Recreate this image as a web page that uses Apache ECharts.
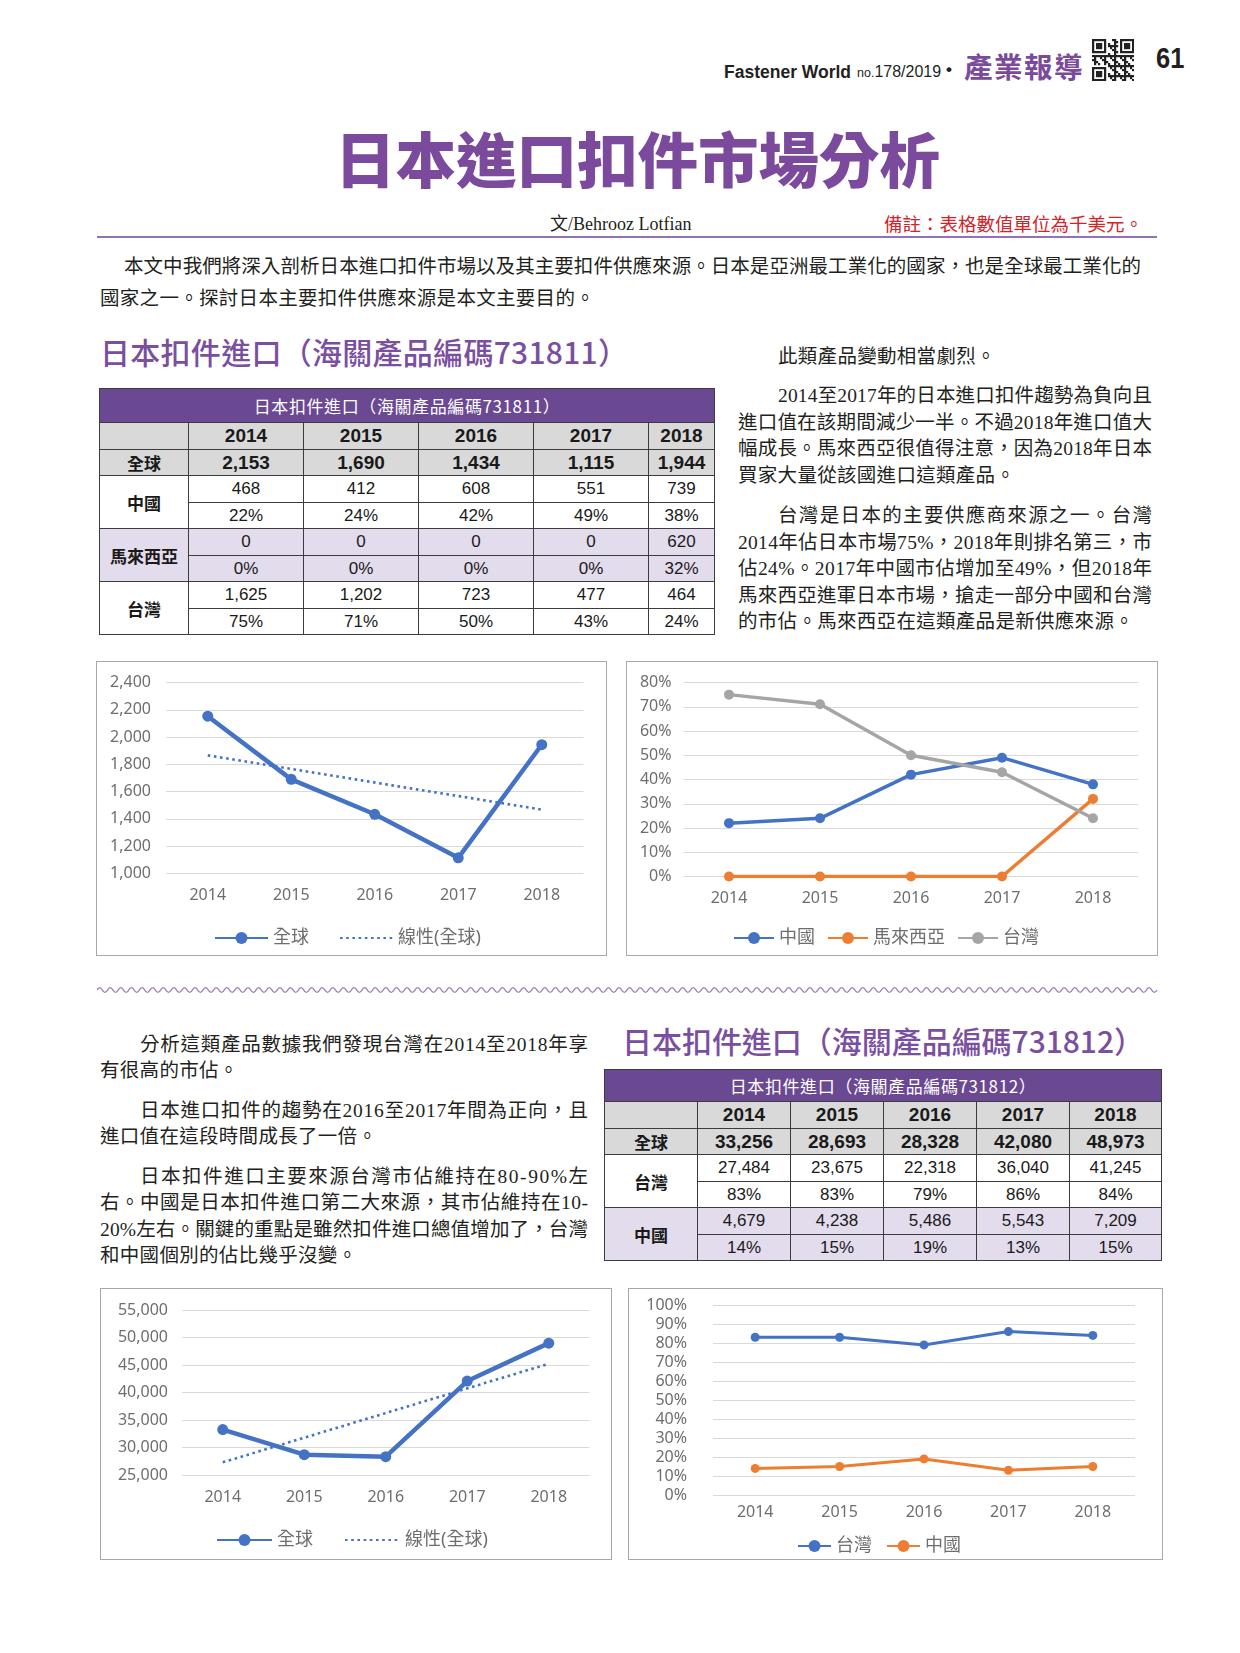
<!DOCTYPE html>
<html><head><meta charset="utf-8">
<script src="https://cdn.jsdelivr.net/npm/echarts@6/dist/echarts.min.js"></script>
<style>
html,body{margin:0;padding:0;background:#fff;}
body{width:1240px;height:1653px;position:relative;overflow:hidden;font-family:"Noto Sans CJK TC",sans-serif;color:#231f20;}
.abs{position:absolute;white-space:nowrap;}
.line{position:absolute;white-space:nowrap;font-family:"Liberation Serif","Noto Sans CJK TC",serif;color:#231f20;}
.box{position:absolute;border:1.5px solid #a8a8a8;box-sizing:border-box;pointer-events:none;}
.chart{position:absolute;}
table.dt{position:absolute;border-collapse:collapse;table-layout:fixed;}
table.dt td{border:1.3px solid #3c3c3c;padding:0;text-align:center;vertical-align:middle;font-family:"Liberation Sans",Arial,sans-serif;font-size:17px;color:#1a1a1a;overflow:hidden;white-space:nowrap;line-height:1;}
table.dt td.th{background:#6b4892;color:#fff;font-family:"Noto Sans CJK TC",sans-serif;font-size:17px;letter-spacing:0.6px;}
table.dt tr.gray td{background:#d9d9d9;}
table.dt tr.lav td, table.dt td.lav{background:#e3dcec;}
table.dt td.yr{font-weight:bold;font-size:19px;}
table.dt td.lbl{font-family:"Noto Sans CJK TC",sans-serif;font-weight:bold;font-size:17px;}
</style>
</head><body>
<script>
// ---------- DATA ----------
const years = ['2014', '2015', '2016', '2017', '2018'];
// HS 731811
const global811 = [2153, 1690, 1434, 1115, 1944];
const china811 = [468, 412, 608, 551, 739];
const malaysia811 = [0, 0, 0, 0, 620];
const taiwan811 = [1625, 1202, 723, 477, 464];
const chinaShare811 = [22, 24, 42, 49, 38];
const malaysiaShare811 = [0, 0, 0, 0, 32];
const taiwanShare811 = [75, 71, 50, 43, 24];
const trend811 = [1866, null, null, null, 1468];   // trendline endpoints
// HS 731812
const global812 = [33256, 28693, 28328, 42080, 48973];
const taiwan812 = [27484, 23675, 22318, 36040, 41245];
const china812 = [4679, 4238, 5486, 5543, 7209];
const taiwanShare812 = [83, 83, 79, 86, 84];
const chinaShare812 = [14, 15, 19, 13, 15];
const trend812 = [27300, null, null, null, 45230];  // trendline endpoints
// axis ticks
const axis1 = {min: 1000, max: 2400, interval: 200};
const axis2 = {min: 0, max: 80, interval: 10};
const axis3 = {min: 25000, max: 55000, interval: 5000};
const axis4 = {min: 0, max: 100, interval: 10};
</script>

<!-- header -->
<div class="abs" style="left:724px;top:62px;font:bold 17.5px 'Liberation Sans',Arial,sans-serif;line-height:20px;">Fastener World</div>
<div class="abs" style="left:857px;top:62px;font-family:'Liberation Sans Narrow','Liberation Sans',sans-serif;line-height:20px;"><span style="font-size:12.5px">no.</span><span style="font-size:16px">178/2019</span></div>
<div class="abs" style="left:946px;top:60px;font:bold 17px 'Liberation Sans',sans-serif;line-height:20px;">•</div>
<div class="abs" style="left:964px;top:50px;font-size:28.5px;font-weight:bold;color:#7b4a9d;letter-spacing:1.5px;line-height:32px;">產業報導</div>
<svg id="qr" class="abs" style="left:1092px;top:39px" width="42" height="42"></svg>
<div class="abs" style="left:1156px;top:42px;font:bold 30px 'Liberation Sans Narrow','Liberation Sans',sans-serif;line-height:32px;transform:scaleX(0.85);transform-origin:left top;">61</div>

<!-- title -->
<div class="abs" style="left:335px;top:121px;font-size:60.5px;font-weight:900;color:#7b4a9d;line-height:72px;">日本進口扣件市場分析</div>
<div class="abs" style="left:550px;top:213px;font-family:'Liberation Serif','Noto Sans CJK TC',serif;font-size:18px;line-height:22px;">文/Behrooz Lotfian</div>
<div class="abs" style="left:884px;top:212px;font-size:18.5px;line-height:22px;color:#d2232a;">備註：表格數值單位為千美元。</div>
<div class="abs" style="left:97px;top:236px;width:1060px;height:1.5px;background:#9273b2;"></div>

<div id="wave" class="abs" style="left:97px;top:978px;"></div>

<div class="box" style="left:96px;top:661px;width:511px;height:295px;"></div>
<div class="box" style="left:626px;top:661px;width:532px;height:295px;"></div>
<div class="box" style="left:100px;top:1288px;width:512px;height:272px;"></div>
<div class="box" style="left:628px;top:1288px;width:535px;height:272px;"></div>
<div id="c1" class="chart" style="left:96px;top:661px;width:511px;height:295px;"></div>
<div id="c2" class="chart" style="left:626px;top:661px;width:532px;height:295px;"></div>
<div id="c3" class="chart" style="left:100px;top:1288px;width:512px;height:272px;"></div>
<div id="c4" class="chart" style="left:628px;top:1288px;width:535px;height:272px;"></div>

<script>
// ---------- text lines ----------
function textLine(txt, x, yc, w, o) {
  o = o || {};
  const fs = o.fs || 19.5, lh = fs + 6;
  const d = document.createElement('div');
  d.className = o.cls || 'line';
  d.style.position = 'absolute';
  d.style.whiteSpace = 'nowrap';
  d.style.left = (x + (o.indent || 0)) + 'px';
  d.style.top = (yc - lh / 2) + 'px';
  d.style.fontSize = fs + 'px';
  d.style.lineHeight = lh + 'px';
  if (o.color) d.style.color = o.color;
  if (o.weight) d.style.fontWeight = o.weight;
  const s = document.createElement('span');
  s.textContent = txt;
  d.appendChild(s);
  document.body.appendChild(d);
  const n = Array.from(txt).length;
  if (o.full) {
    const nat = s.getBoundingClientRect().width;
    const target = w - (o.indent || 0);
    d.style.letterSpacing = ((target - nat) / (n - 1)) + 'px';
  } else if (o.ls != null) {
    d.style.letterSpacing = o.ls + 'px';
  }
  return d;
}
// intro
textLine('本文中我們將深入剖析日本進口扣件市場以及其主要扣件供應來源。日本是亞洲最工業化的國家，也是全球最工業化的', 100, 267, 1041, {indent: 24, full: true});
textLine('國家之一。探討日本主要扣件供應來源是本文主要目的。', 100, 298.5, 0, {ls: 0.3});
// right column
const RX = 738, RW = 414;
textLine('此類產品變動相當劇烈。', RX, 357, RW, {indent: 40, ls: 0.3});
textLine('2014至2017年的日本進口扣件趨勢為負向且', RX, 396, RW, {indent: 40, full: true});
textLine('進口值在該期間減少一半。不過2018年進口值大', RX, 422.5, RW, {full: true});
textLine('幅成長。馬來西亞很值得注意，因為2018年日本', RX, 449, RW, {full: true});
textLine('買家大量從該國進口這類產品。', RX, 475.5, RW, {ls: 0.3});
textLine('台灣是日本的主要供應商來源之一。台灣', RX, 516, RW, {indent: 40, full: true});
textLine('2014年佔日本市場75%，2018年則排名第三，市', RX, 542.5, RW, {full: true});
textLine('佔24%。2017年中國市佔增加至49%，但2018年', RX, 569, RW, {full: true});
textLine('馬來西亞進軍日本市場，搶走一部分中國和台灣', RX, 595.5, RW, {full: true});
textLine('的市佔。馬來西亞在這類產品是新供應來源。', RX, 622, RW, {ls: 0.3});
// lower left
const LX = 100, LW = 488;
textLine('分析這類產品數據我們發現台灣在2014至2018年享', LX, 1044.5, LW, {indent: 40, full: true});
textLine('有很高的市佔。', LX, 1070.5, LW, {ls: 0.3});
textLine('日本進口扣件的趨勢在2016至2017年間為正向，且', LX, 1111, LW, {indent: 40, full: true});
textLine('進口值在這段時間成長了一倍。', LX, 1137, LW, {ls: 0.3});
textLine('日本扣件進口主要來源台灣市佔維持在80-90%左', LX, 1176.5, LW, {indent: 40, full: true});
textLine('右。中國是日本扣件進口第二大來源，其市佔維持在10-', LX, 1203, LW, {full: true});
textLine('20%左右。關鍵的重點是雖然扣件進口總值增加了，台灣', LX, 1229.5, LW, {full: true});
textLine('和中國個別的佔比幾乎沒變。', LX, 1256, LW, {ls: 0.3});
// section headings
textLine('日本扣件進口（海關產品編碼731811）', 100, 351, 528, {cls: 'abs', fs: 30, full: true, color: '#7a4f9f', weight: 500});
textLine('日本扣件進口（海關產品編碼731812）', 622, 1040, 522, {cls: 'abs', fs: 30, full: true, color: '#7a4f9f', weight: 500});

// ---------- tables ----------
const fmt = v => v.toLocaleString('en-US');
const pct = v => v + '%';
function buildTable(left, top, colW, headH, rowH, title, rows) {
  const t = document.createElement('table');
  t.className = 'dt';
  t.style.left = left + 'px';
  t.style.top = top + 'px';
  t.style.width = colW.reduce((a, b) => a + b, 0) + 'px';
  const cg = document.createElement('colgroup');
  colW.forEach(w => { const c = document.createElement('col'); c.style.width = w + 'px'; cg.appendChild(c); });
  t.appendChild(cg);
  const hr = document.createElement('tr');
  hr.style.height = headH + 'px';
  const th = document.createElement('td');
  th.colSpan = colW.length; th.className = 'th'; th.textContent = title;
  hr.appendChild(th); t.appendChild(hr);
  rows.forEach(r => {
    const tr = document.createElement('tr');
    tr.style.height = rowH + 'px';
    if (r.cls) tr.className = r.cls;
    r.cells.forEach(c => {
      const td = document.createElement('td');
      if (typeof c === 'object') {
        td.textContent = c.text;
        if (c.rowspan) td.rowSpan = c.rowspan;
        if (c.cls) td.className = c.cls;
      } else {
        td.textContent = c;
        if (r.cellCls) td.className = r.cellCls;
      }
      tr.appendChild(td);
    });
    t.appendChild(tr);
  });
  document.body.appendChild(t);
}
buildTable(99, 388, [89, 115, 115, 115, 115, 66], 34, 26.5, '日本扣件進口（海關產品編碼731811）', [
  {cls: 'gray', cellCls: 'yr', cells: [''].concat(years)},
  {cls: 'gray', cellCls: 'yr', cells: [{text: '全球', cls: 'lbl'}].concat(global811.map(fmt))},
  {cells: [{text: '中國', rowspan: 2, cls: 'lbl'}].concat(china811.map(fmt))},
  {cells: chinaShare811.map(pct)},
  {cls: 'lav', cells: [{text: '馬來西亞', rowspan: 2, cls: 'lbl lav'}].concat(malaysia811.map(fmt))},
  {cls: 'lav', cells: malaysiaShare811.map(pct)},
  {cells: [{text: '台灣', rowspan: 2, cls: 'lbl'}].concat(taiwan811.map(fmt))},
  {cells: taiwanShare811.map(pct)}
]);
buildTable(604, 1069, [93, 93, 93, 93, 93, 92], 32, 26.5, '日本扣件進口（海關產品編碼731812）', [
  {cls: 'gray', cellCls: 'yr', cells: [''].concat(years)},
  {cls: 'gray', cellCls: 'yr', cells: [{text: '全球', cls: 'lbl'}].concat(global812.map(fmt))},
  {cells: [{text: '台灣', rowspan: 2, cls: 'lbl'}].concat(taiwan812.map(fmt))},
  {cells: taiwanShare812.map(pct)},
  {cls: 'lav', cells: [{text: '中國', rowspan: 2, cls: 'lbl lav'}].concat(china812.map(fmt))},
  {cls: 'lav', cells: chinaShare812.map(pct)}
]);

// ---------- decorations ----------
(function () {
  const W = 1066, A = 2.4, L = 10.6;
  let d = 'M0 7';
  for (let x = 0; x + L <= W; x += L) {
    d += ' Q' + (x + L / 4) + ' ' + (7 - A * 2) + ' ' + (x + L / 2) + ' 7';
    d += ' Q' + (x + 3 * L / 4) + ' ' + (7 + A * 2) + ' ' + (x + L) + ' 7';
  }
  document.getElementById('wave').innerHTML =
    '<svg width="' + W + '" height="14"><path d="' + d + '" fill="none" stroke="#9a7cb8" stroke-width="1.4"/></svg>';
  const q = document.getElementById('qr');
  const N = 21, m = 42 / N;
  let s = '';
  const finder = (i, j) => {
    for (const [r0, c0] of [[0, 0], [0, 14], [14, 0]]) {
      const r = i - r0, c = j - c0;
      if (r >= 0 && r < 7 && c >= 0 && c < 7) {
        return (r === 0 || r === 6 || c === 0 || c === 6 || (r >= 2 && r <= 4 && c >= 2 && c <= 4)) ? 1 : 0;
      }
      if (r >= -1 && r <= 7 && c >= -1 && c <= 7) return 0;
    }
    return null;
  };
  for (let i = 0; i < N; i++) for (let j = 0; j < N; j++) {
    let v = finder(i, j);
    if (v === null) v = ((i * 7 + j * 11 + i * j * 3) % 5) < 2 ? 1 : 0;
    if (v) s += '<rect x="' + (j * m) + '" y="' + (i * m) + '" width="' + (m + 0.2) + '" height="' + (m + 0.2) + '" fill="#222"/>';
  }
  q.innerHTML = s;
})();

// ---------- charts ----------
const FONT = '"Noto Sans","Noto Sans CJK TC",sans-serif';
const AX = '#6e6e6e';
const BLUE = '#4472C4', ORANGE = '#ED7D31', GRAY = '#A5A5A5';
function xAxisOpt(margin) {
  return {type: 'category', data: years, axisLine: {show: false}, axisTick: {show: false},
    axisLabel: {color: AX, fontSize: 16, margin: margin, fontFamily: FONT}};
}
function yAxisOpt(ax, margin, formatter) {
  return {type: 'value', min: ax.min, max: ax.max, interval: ax.interval,
    axisLine: {show: false}, axisTick: {show: false},
    axisLabel: {color: AX, fontSize: 16, margin: margin, fontFamily: FONT, formatter: formatter},
    splitLine: {lineStyle: {color: '#d9d9d9', width: 1}}};
}
function legendOpt(left, top, iw, gap, data, fs) {
  return {left: left, top: top, itemWidth: iw, itemHeight: 15, itemGap: gap, data: data,
    textStyle: {color: AX, fontSize: fs || 18, fontFamily: FONT}};
}
function ser(name, data, color, width, size) {
  return {name: name, type: 'line', data: data, symbol: 'circle', symbolSize: size,
    lineStyle: {color: color, width: width}, itemStyle: {color: color}, z: 3};
}
function trend(name, data) {
  return {name: name, type: 'line', data: data, connectNulls: true, symbol: 'none', showSymbol: false,
    lineStyle: {color: BLUE, width: 2.6, type: [2.6, 3.6]}, itemStyle: {color: 'rgba(0,0,0,0)'}, z: 2};
}
const numFmt = v => v.toLocaleString('en-US');
const pctFmt = v => v + '%';

echarts.init(document.getElementById('c1')).setOption({
  animation: false,
  grid: {left: 70, top: 21.5, width: 417.5, height: 191},
  legend: legendOpt(113, 263, 53, 30, ['全球', '線性(全球)']),
  xAxis: xAxisOpt(14),
  yAxis: yAxisOpt(axis1, 15, numFmt),
  series: [ser('全球', global811, BLUE, 4.5, 11), trend('線性(全球)', trend811)]
});
echarts.init(document.getElementById('c2')).setOption({
  animation: false,
  grid: {left: 57.5, top: 21.5, width: 455, height: 194},
  legend: legendOpt(102, 263, 40, 12, ['中國', '馬來西亞', '台灣']),
  xAxis: xAxisOpt(14),
  yAxis: yAxisOpt(axis2, 12, pctFmt),
  series: [ser('中國', chinaShare811, BLUE, 3.5, 10),
           ser('馬來西亞', malaysiaShare811, ORANGE, 3.5, 10),
           ser('台灣', taiwanShare811, GRAY, 3.5, 10)]
});
echarts.init(document.getElementById('c3')).setOption({
  animation: false,
  grid: {left: 82, top: 22, width: 407.5, height: 165},
  legend: legendOpt(111, 238, 55, 31, ['全球', '線性(全球)']),
  xAxis: xAxisOpt(14),
  yAxis: yAxisOpt(axis3, 14, numFmt),
  series: [ser('全球', global812, BLUE, 4.5, 11), trend('線性(全球)', trend812)]
});
echarts.init(document.getElementById('c4')).setOption({
  animation: false,
  grid: {left: 85, top: 17, width: 422, height: 190},
  legend: legendOpt(164, 244, 33, 14, ['台灣', '中國']),
  xAxis: xAxisOpt(9),
  yAxis: yAxisOpt(axis4, 26, pctFmt),
  series: [ser('台灣', taiwanShare812, BLUE, 3, 9), ser('中國', chinaShare812, ORANGE, 3, 9)]
});
</script>
</body></html>
